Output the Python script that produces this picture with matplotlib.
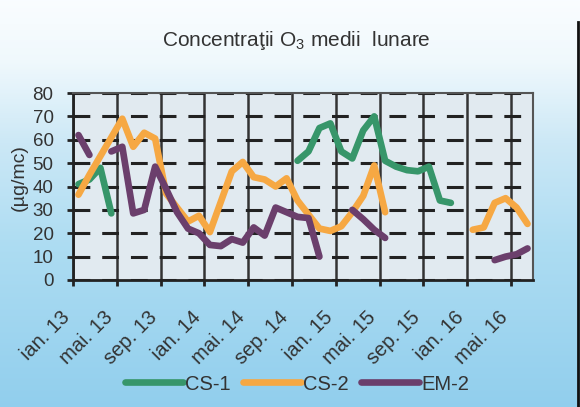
import numpy as np
import matplotlib
matplotlib.use('Agg')
import matplotlib.pyplot as plt
from matplotlib.lines import Line2D
from matplotlib.transforms import ScaledTranslation

nan = np.nan

# monthly means, ian.13 .. iun.16 (42 months), gaps = missing data
cs1 = [41, 43, 48, 28.5,
       nan, nan, nan, nan, nan, nan, nan, nan, nan, nan, nan, nan,
       nan, nan, nan, nan,
       51, 55, 65, 67, 55, 52, 64, 70, 51, 48.5, 47, 46.5, 48.5, 34, 33,
       nan, nan, nan, nan, nan, nan, nan]
cs2 = [36.5, 45, 53, 61, 69, 57, 63, 60.5, 37, 31, 25, 27.5,
       20.5, 33.5, 46.5, 50.5, 44, 43, 40, 43.5, 34, 28, 22, 21,
       23, 29, 36, 49, 29,
       nan, nan, nan, nan, nan, nan, nan,
       21.5, 22.5, 33, 35, 31, 24]
em2 = [62, 53.5, nan, 55, 57, 28.5, 30, 48.5, 39, 29, 22, 20,
       15, 14.5, 17.5, 16, 22.5, 19, 31, 29, 27, 26.5, 10, nan,
       nan, 30, 26, 21.5, 18,
       nan, nan, nan, nan, nan, nan, nan, nan, nan,
       8.5, 10, 11, 13.5]
tick_labels = ['ian. 13', 'mai. 13', 'sep. 13', 'ian. 14', 'mai. 14', 'sep. 14',
               'ian. 15', 'mai. 15', 'sep. 15', 'ian. 16', 'mai. 16']
series = [('CS-1', cs1, '#37966a'), ('CS-2', cs2, '#f6a843'), ('EM-2', em2, '#6b3f6c')]

plt.rcParams['font.family'] = ['Liberation Sans', 'DejaVu Sans']
plt.rcParams['mathtext.default'] = 'regular'
txt_col = '#333333'

fig = plt.figure(figsize=(5.8, 4.07), dpi=100)

# background gradient (white at top -> light blue at bottom)
bg = fig.add_axes([0, 0, 1, 1])
bg.set_zorder(0)
stops_y = [0.0, 0.15, 0.35, 0.6, 1.0]
stops_c = np.array([[0.98, 0.99, 1.0], [0.94, 0.975, 0.99], [0.80, 0.91, 0.965],
                    [0.68, 0.865, 0.95], [0.57, 0.81, 0.93]])
yy = np.linspace(0, 1, 407)
grad = np.stack([np.interp(yy, stops_y, stops_c[:, k]) for k in range(3)], axis=1)
bg.imshow(grad[:, None, :].repeat(2, axis=1), aspect='auto', extent=[0, 1, 1, 0])
bg.axis('off')

ax = fig.add_axes([73 / 580, 1 - 280 / 407, 460 / 580, 187 / 407])
ax.set_zorder(1)
ax.set_facecolor('#e1eaf0')

n = len(cs2)
x = np.arange(n)
for name, vals, col in series:
    ax.plot(x, vals, color=col, lw=4.8, label=name,
            solid_capstyle='round', solid_joinstyle='round', zorder=3)

ax.set_xlim(-0.5, n - 0.5)
ax.set_ylim(0, 80)
ax.set_yticks(range(0, 81, 10))
ax.tick_params(axis='y', direction='out', length=4, width=2, color='#222222',
               pad=10, labelsize=13.5, labelcolor=txt_col)

# category boundaries every 4 months -> vertical grid + tick marks
ax.set_xticks(np.arange(-0.5, n, 4), minor=True)
ax.set_xticks(np.arange(0, n, 4))
ax.set_xticklabels(tick_labels, rotation=45, ha='right', va='center',
                   rotation_mode='anchor')
ax.tick_params(axis='x', which='major', length=0, pad=25, labelsize=14.5,
               labelcolor=txt_col)
ax.tick_params(axis='x', which='minor', direction='out', length=4.5, width=2,
               color='#222222')
off = ScaledTranslation(-12 / 100, 0, fig.dpi_scale_trans)
for lab in ax.get_xticklabels():
    lab.set_transform(lab.get_transform() + off)

ax.grid(which='minor', axis='x', color='#333333', lw=1.8, linestyle='-')
ax.grid(which='major', axis='y', color='#222222', lw=2.2, linestyle=(0, (5.5, 3.9)))
ax.set_axisbelow(True)

for side in ['left', 'bottom']:
    ax.spines[side].set_color('#222222')
    ax.spines[side].set_linewidth(2)
for side in ['top', 'right']:
    ax.spines[side].set_color('#555555')
    ax.spines[side].set_linewidth(1.5)

fig.text(296 / 580, 1 - 40 / 407, 'Concentraţii O$_3$ medii  lunare',
         ha='center', va='center', fontsize=15, color=txt_col)
fig.text(19 / 580, 1 - 178 / 407, '(µg/mc)', rotation=90, ha='center',
         va='center', fontsize=14, color=txt_col)

fig.legend(loc='center', bbox_to_anchor=(297 / 580, 1 - 384 / 407), ncol=3,
           frameon=False, fontsize=14.5, handlelength=2.9, handletextpad=0.1,
           columnspacing=0.6, labelcolor=txt_col)

fig.add_artist(Line2D([578 / 580, 578 / 580], [0, 1 - 22 / 407], color='#111111',
                      lw=2, transform=fig.transFigure))

fig.savefig('out.png', dpi=100)
